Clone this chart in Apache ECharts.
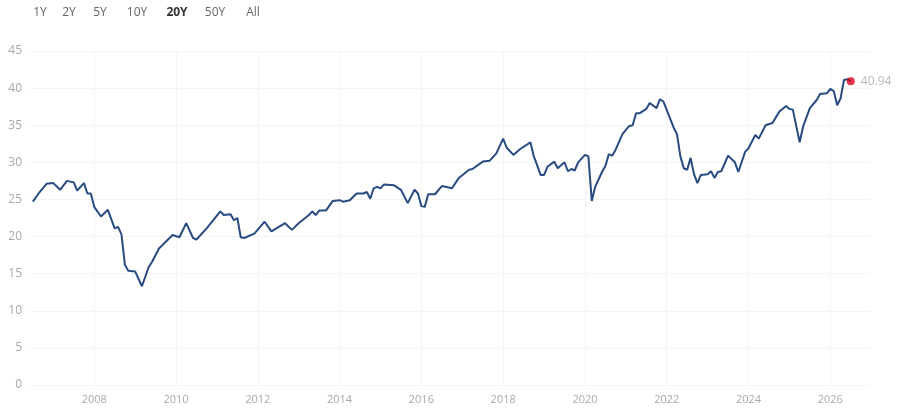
<!DOCTYPE html>
<html lang="en">
<head>
    <meta charset="UTF-8">
    <title>20Y</title>
    <script src="https://cdn.jsdelivr.net/npm/echarts@6/dist/echarts.min.js"></script>
    <style>
        html, body { margin: 0; padding: 0; background: #fff; }
        #main { width: 900px; height: 417px; }
    </style>
</head>
<body>
<div id="main"></div>
<script type="text/javascript">
    // month of each reading and the value
    var dates = [
        '2006-07','2006-09','2006-11','2007-01','2007-03','2007-05','2007-07','2007-08','2007-10','2007-11',
        '2007-12','2008-01','2008-03','2008-05','2008-07','2008-08','2008-09','2008-10','2008-11','2009-01',
        '2009-03','2009-05','2009-06','2009-08','2009-10','2009-12','2010-02','2010-04','2010-06','2010-07',
        '2010-10','2011-02','2011-03','2011-05','2011-06','2011-07','2011-08','2011-09','2011-12','2012-03',
        '2012-05','2012-09','2012-11','2013-01','2013-04','2013-05','2013-06','2013-07','2013-09','2013-11',
        '2014-01','2014-02','2014-04','2014-06','2014-08','2014-09','2014-10','2014-11','2014-12','2015-01',
        '2015-02','2015-05','2015-07','2015-09','2015-11','2015-12','2016-01','2016-02','2016-03','2016-05',
        '2016-07','2016-10','2016-12','2017-03','2017-04','2017-07','2017-09','2017-11','2018-01','2018-02',
        '2018-04','2018-06','2018-09','2018-10','2018-12','2019-01','2019-02','2019-04','2019-05','2019-07',
        '2019-08','2019-09','2019-10','2019-11','2020-01','2020-02','2020-03','2020-04','2020-06','2020-07',
        '2020-08','2020-09','2020-10','2020-12','2021-02','2021-03','2021-04','2021-05','2021-07','2021-08',
        '2021-10','2021-11','2021-12','2022-02','2022-03','2022-04','2022-05','2022-06','2022-07','2022-08',
        '2022-09','2022-10','2022-11','2023-01','2023-02','2023-03','2023-04','2023-05','2023-07','2023-09',
        '2023-10','2023-12','2024-01','2024-03','2024-04','2024-06','2024-08','2024-10','2024-12','2025-01',
        '2025-02','2025-04','2025-05','2025-07','2025-09','2025-10','2025-12','2026-01','2026-02','2026-03',
        '2026-04','2026-05','2026-06','2026-07'
    ];
    var values = [
        24.7, 26.0, 27.1, 27.2, 26.3, 27.5, 27.3, 26.2, 27.2, 25.8,
        25.8, 24.0, 22.7, 23.6, 21.1, 21.3, 20.3, 16.2, 15.4, 15.3,
        13.3, 15.9, 16.6, 18.4, 19.3, 20.2, 19.9, 21.8, 19.8, 19.6,
        21.1, 23.4, 22.9, 23.0, 22.2, 22.5, 19.9, 19.8, 20.4, 22.0,
        20.7, 21.8, 20.9, 21.8, 22.9, 23.4, 22.9, 23.5, 23.5, 24.8,
        24.9, 24.7, 24.9, 25.8, 25.8, 26.0, 25.1, 26.5, 26.7, 26.5,
        27.0, 26.9, 26.3, 24.5, 26.3, 25.8, 24.1, 24.0, 25.7, 25.7,
        26.8, 26.5, 27.9, 29.0, 29.1, 30.1, 30.2, 31.2, 33.2, 32.0,
        31.0, 31.8, 32.7, 30.8, 28.3, 28.3, 29.4, 30.1, 29.2, 30.0,
        28.8, 29.1, 28.9, 30.0, 31.0, 30.8, 24.8, 26.7, 28.7, 29.5,
        31.1, 30.9, 31.7, 33.8, 34.9, 35.0, 36.6, 36.6, 37.2, 38.0,
        37.3, 38.5, 38.2, 35.9, 34.7, 33.8, 30.8, 29.2, 29.0, 30.6,
        28.4, 27.2, 28.3, 28.4, 28.8, 27.9, 28.7, 28.8, 30.9, 30.0,
        28.7, 31.4, 31.9, 33.7, 33.2, 35.0, 35.3, 36.8, 37.6, 37.2,
        37.1, 32.7, 34.8, 37.3, 38.4, 39.2, 39.3, 39.9, 39.6, 37.7,
        38.6, 41.1, 41.2, 40.94
    ];
    var yearTicks = [2008, 2010, 2012, 2014, 2016, 2018, 2020, 2022, 2024, 2026];
    var ranges = ['1Y', '2Y', '5Y', '10Y', '20Y', '50Y', 'All'];
    var activeRange = '20Y';

    var chart = echarts.init(document.getElementById('main'));

    // 'YYYY-MM' -> decimal year for the value axis
    function toYear(s) {
        var p = s.split('-');
        return +p[0] + (+p[1] - 1) / 12;
    }

    var seriesData = [];
    for (var i = 0; i < dates.length; i++) {
        seriesData.push([toYear(dates[i]), values[i]]);
    }
    var last = seriesData[seriesData.length - 1];

    // range buttons along the top
    var btnX = [40, 69, 100, 137, 177, 215, 253];
    var buttons = ranges.map(function (r, i) {
        return {
            type: 'text',
            x: btnX[i],
            y: 13,
            style: {
                text: r,
                align: 'center',
                verticalAlign: 'middle',
                fill: r === activeRange ? '#333' : '#666',
                font: (r === activeRange ? 'bold ' : '') + '12px "Open Sans", sans-serif'
            }
        };
    });

    var option = {
        animation: false,
        textStyle: { fontFamily: '"Open Sans", sans-serif' },
        graphic: buttons,
        grid: { left: 30, right: 30, top: 51, bottom: 32, containLabel: false },
        xAxis: {
            type: 'value',
            min: 2006.43,
            max: 2026.97,
            axisLine: { show: false },
            axisTick: { show: false, customValues: yearTicks },
            splitLine: { show: true, lineStyle: { color: '#f4f4f4', width: 1 } },
            axisLabel: {
                customValues: yearTicks,
                color: '#a8a8a8',
                fontSize: 11,
                margin: 9,
                formatter: function (v) { return String(Math.round(v)); }
            }
        },
        yAxis: {
            type: 'value',
            min: 0,
            max: 45,
            interval: 5,
            axisLine: { show: false },
            axisTick: { show: false },
            splitLine: { lineStyle: { color: '#f4f4f4', width: 1 } },
            axisLabel: { color: '#a8a8a8', fontSize: 12, margin: 8 }
        },
        series: [
            {
                type: 'line',
                data: seriesData,
                showSymbol: false,
                lineStyle: { color: '#284b80', width: 2 },
                itemStyle: { color: '#284b80' }
            },
            {
                type: 'scatter',
                data: [last],
                symbolSize: 8,
                itemStyle: { color: '#d9001b' },
                label: {
                    show: true,
                    position: 'right',
                    distance: 6,
                    color: '#a8a8a8',
                    fontSize: 12,
                    formatter: function (p) { return p.value[1].toFixed(2); }
                },
                z: 5
            }
        ]
    };

    chart.setOption(option);
</script>
</body>
</html>
